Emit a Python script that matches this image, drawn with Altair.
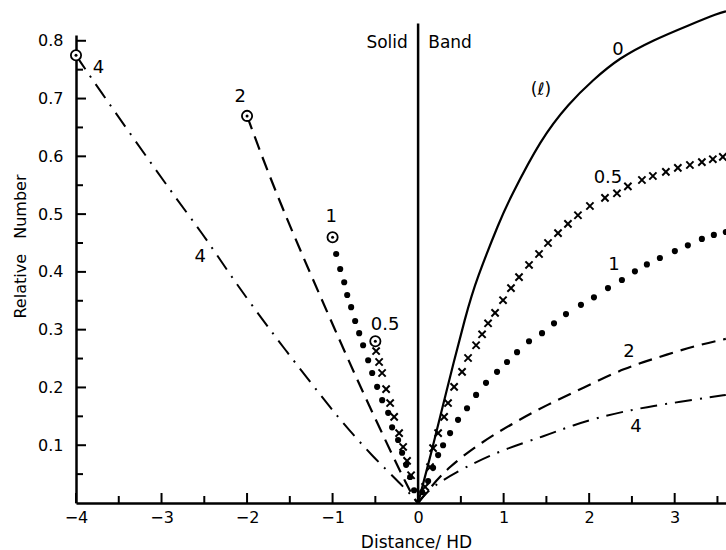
import altair as alt
import pandas as pd

FONT = "DejaVu Sans"

# ---------------- data ----------------
# "Band" side (x > 0)
band0_x = [0, 0.164, 0.304, 0.572, 0.678, 0.958, 1.063, 1.437, 1.764, 2.044, 2.348, 2.745, 3.166, 3.516, 3.6]
band0_y = [0, 0.092, 0.178, 0.334, 0.385, 0.490, 0.524, 0.631, 0.692, 0.732, 0.770, 0.801, 0.827, 0.848, 0.851]

band05_x = [0.082, 0.140, 0.175, 0.234, 0.304, 0.350, 0.421, 0.514, 0.584, 0.678, 0.748, 0.818, 0.900,
            0.993, 1.086, 1.180, 1.297, 1.414, 1.519, 1.636, 1.752, 1.869, 2.009, 2.185, 2.325, 2.453,
            2.617, 2.745, 2.897, 3.037, 3.178, 3.318, 3.446, 3.563]
band05_y = [0.028, 0.062, 0.095, 0.121, 0.149, 0.173, 0.201, 0.227, 0.251, 0.273, 0.292, 0.311, 0.329,
            0.351, 0.372, 0.391, 0.412, 0.431, 0.450, 0.467, 0.483, 0.498, 0.514, 0.528, 0.536, 0.548,
            0.559, 0.566, 0.573, 0.580, 0.585, 0.590, 0.595, 0.599]

band1_x = [0.047, 0.117, 0.175, 0.234, 0.292, 0.374, 0.467, 0.572, 0.678, 0.794, 0.923, 1.040, 1.157,
           1.297, 1.449, 1.589, 1.729, 1.904, 2.056, 2.220, 2.383, 2.535, 2.675, 2.827, 3.002, 3.154,
           3.318, 3.458, 3.598]
band1_y = [0.019, 0.038, 0.061, 0.083, 0.100, 0.121, 0.144, 0.164, 0.187, 0.208, 0.227, 0.244, 0.261,
           0.280, 0.294, 0.311, 0.327, 0.343, 0.356, 0.372, 0.386, 0.401, 0.413, 0.424, 0.436, 0.446,
           0.457, 0.464, 0.469]

band2_x = [0, 0.117, 0.350, 0.748, 1.133, 1.507, 1.928, 2.418, 2.827, 3.259, 3.598]
band2_y = [0, 0.022, 0.062, 0.106, 0.140, 0.170, 0.199, 0.234, 0.253, 0.273, 0.284]

band4_x = [0, 0.082, 0.234, 0.549, 0.981, 1.484, 1.811, 2.208, 2.500, 2.745, 3.061, 3.411, 3.598]
band4_y = [0, 0.016, 0.035, 0.062, 0.092, 0.116, 0.135, 0.152, 0.161, 0.168, 0.175, 0.183, 0.187]

# "Solid" side (x < 0)
solid05_x = [-0.491, -0.456, -0.421, -0.374, -0.327, -0.280, -0.222, -0.175, -0.129, -0.082]
solid05_y = [0.263, 0.244, 0.225, 0.197, 0.173, 0.149, 0.121, 0.097, 0.073, 0.048]

solid1_x = [-0.958, -0.911, -0.864, -0.829, -0.783, -0.736, -0.689, -0.643, -0.584, -0.537, -0.479,
            -0.420, -0.350, -0.304, -0.234, -0.187, -0.140, -0.093, -0.047]
solid1_y = [0.431, 0.405, 0.382, 0.360, 0.339, 0.315, 0.294, 0.273, 0.247, 0.225, 0.201,
            0.178, 0.156, 0.131, 0.109, 0.087, 0.066, 0.045, 0.022]

solid2_x = [-2.0, -1.636, -0.911, -0.619, -0.07, 0]
solid2_y = [0.670, 0.524, 0.279, 0.183, 0.010, 0]

solid4_x = [-4.0, -3.83, -2.862, -2.523, -2.22, -1.963, -1.554, -1.121, -0.911, -0.537, -0.187, 0]
solid4_y = [0.775, 0.737, 0.533, 0.467, 0.400, 0.346, 0.265, 0.183, 0.144, 0.081, 0.031, 0]

end_x = [-4.0, -2.0, -1.0, -0.5]
end_y = [0.775, 0.670, 0.460, 0.280]

divider_x = [0, 0]
divider_y = [0, 0.83]

label_text = ["Solid", "Band", "0", "(ℓ)", "0.5", "1", "2", "4", "4", "2", "1", "0.5", "4"]
label_x = [-0.362, 0.374, 2.336, 1.437, 2.22, 2.29, 2.465, 2.547, -3.738, -2.08, -1.016, -0.385, -2.547]
label_y = [0.796, 0.796, 0.784, 0.715, 0.562, 0.412, 0.261, 0.131, 0.753, 0.702, 0.495, 0.308, 0.426]
label_size = [17, 17, 18, 17, 18, 18, 18, 18, 18, 18, 18, 18, 18]

# axis labels and (inward) tick positions
x_labels = [-4, -3, -2, -1, 0, 1, 2, 3]
x_minor = [-3.5, -2.5, -1.5, -0.5, 0.5, 1.5, 2.5, 3.5]
y_labels = [0.1, 0.2, 0.3, 0.4, 0.5, 0.6, 0.7, 0.8]
y_minor = [0.05, 0.15, 0.25, 0.35, 0.45, 0.55, 0.65, 0.75]
x_axis_at = -4   # the y axis sits at x = -4
y_axis_at = 0    # the x axis sits at y = 0

# ---------------- tables ----------------
def line_df(xs, ys, side):
    return pd.DataFrame({"x": xs, "y": ys, "side": side})

curve0 = line_df(band0_x, band0_y, "band")
curve2 = pd.concat([line_df(solid2_x, solid2_y, "solid"), line_df(band2_x, band2_y, "band")])
curve4 = pd.concat([line_df(solid4_x, solid4_y, "solid"), line_df(band4_x, band4_y, "band")])
crosses = pd.DataFrame({"x": solid05_x + band05_x, "y": solid05_y + band05_y})
dots = pd.DataFrame({"x": solid1_x + band1_x, "y": solid1_y + band1_y})
ends = pd.DataFrame({"x": end_x, "y": end_y})
divider = pd.DataFrame({"x": divider_x[:1], "y": divider_y[:1], "y2": divider_y[1:]})
labels = pd.DataFrame({"t": label_text, "x": label_x, "y": label_y, "s": label_size})
xt_major = pd.DataFrame({"x": x_labels, "y": y_axis_at})
xt_minor = pd.DataFrame({"x": x_minor, "y": y_axis_at})
yt_major = pd.DataFrame({"x": x_axis_at, "y": y_labels})
yt_minor = pd.DataFrame({"x": x_axis_at, "y": y_minor})

xs = alt.Scale(domain=[-4, 3.6], nice=False, zero=False)
ys = alt.Scale(domain=[0, 0.81], nice=False, zero=False)

x_axis = alt.Axis(values=x_labels, format="d", orient="bottom", title="Distance/ HD",
                  domain=True, domainColor="black", domainWidth=2.5, ticks=False, tickSize=0,
                  labelPadding=6, labelFontSize=16, labelFont=FONT, labelColor="black",
                  labelFlush=False, labelOverlap=False, grid=False,
                  titleFont=FONT, titleFontSize=17, titleFontWeight="normal", titleColor="black",
                  titleX=340, titleY=44, titleBaseline="alphabetic", titleAlign="center")
y_axis = alt.Axis(values=y_labels, format=".1f", orient="left", title="Relative\u00a0\u00a0\u00a0Number",
                  domain=True, domainColor="black", domainWidth=2.5, ticks=False, tickSize=0,
                  labelPadding=13, labelFontSize=16, labelFont=FONT, labelColor="black",
                  labelFlush=False, labelOverlap=False, grid=False,
                  titleFont=FONT, titleFontSize=16, titleFontWeight="normal", titleColor="black",
                  titleX=-56, titleY=211, titleAngle=270, titleBaseline="middle", titleAlign="center")

X = alt.X("x:Q", scale=xs, axis=None)
Y = alt.Y("y:Q", scale=ys, axis=None)

# ---------------- layers ----------------
l0 = alt.Chart(curve0).mark_line(color="black", strokeWidth=2.2, interpolate="basis").encode(
    x=alt.X("x:Q", scale=xs, axis=x_axis),
    y=alt.Y("y:Q", scale=ys, axis=y_axis),
    order="x:Q",
)
l2 = alt.Chart(curve2).mark_line(color="black", strokeWidth=2.2, strokeDash=[14, 8],
                                 interpolate="basis").encode(
    x=X, y=Y, detail="side:N", order="x:Q",
)
l4 = alt.Chart(curve4).mark_line(color="black", strokeWidth=2, strokeDash=[17, 8, 2, 8],
                                 interpolate="basis").encode(
    x=X, y=Y, detail="side:N", order="x:Q",
)
ldiv = alt.Chart(divider).mark_rule(color="black", strokeWidth=2.5).encode(
    x=X, y=Y, y2="y2:Q",
)
# inward ticks
lxt1 = alt.Chart(xt_major).mark_tick(orient="vertical", color="black", size=10, thickness=2,
                                     yOffset=-5, opacity=1).encode(x=X, y=Y)
lxt2 = alt.Chart(xt_minor).mark_tick(orient="vertical", color="black", size=7, thickness=2,
                                     yOffset=-3.5, opacity=1).encode(x=X, y=Y)
lyt1 = alt.Chart(yt_major).mark_tick(orient="horizontal", color="black", size=10, thickness=2,
                                     xOffset=5, opacity=1).encode(x=X, y=Y)
lyt2 = alt.Chart(yt_minor).mark_tick(orient="horizontal", color="black", size=7, thickness=2,
                                     xOffset=3.5, opacity=1).encode(x=X, y=Y)
ldots = alt.Chart(dots).mark_point(shape="circle", filled=True, color="black", size=38, opacity=1).encode(
    x=X, y=Y,
)
lcross = alt.Chart(crosses).mark_point(shape="M-1,-1L1,1M-1,1L1,-1", filled=False, color="black",
                                       strokeWidth=2, size=52, opacity=1).encode(
    x=X, y=Y,
)
lring = alt.Chart(ends).mark_point(shape="circle", filled=True, fill="white", stroke="black",
                                   strokeWidth=1.8, size=105, opacity=1).encode(
    x=X, y=Y,
)
lcenter = alt.Chart(ends).mark_point(shape="circle", filled=True, color="black", size=9, opacity=1).encode(
    x=X, y=Y,
)
ltext = alt.Chart(labels).mark_text(font=FONT, color="black", align="center", baseline="middle").encode(
    x=X, y=Y,
    text="t:N",
    size=alt.Size("s:Q", scale=None, legend=None),
)

chart = alt.layer(l0, l2, l4, ldiv, lxt1, lxt2, lyt1, lyt2, ldots, lcross, lring, lcenter, ltext).resolve_axis(
    x="independent", y="independent"
).properties(
    width=650, height=468,
    autosize=alt.AutoSizeParams(type="none"),
    padding={"left": 76, "top": 35, "right": 0, "bottom": 47},
    background="white",
).configure_view(stroke=None)

chart.save("out.html", embed_options={"renderer": "svg", "actions": False})
